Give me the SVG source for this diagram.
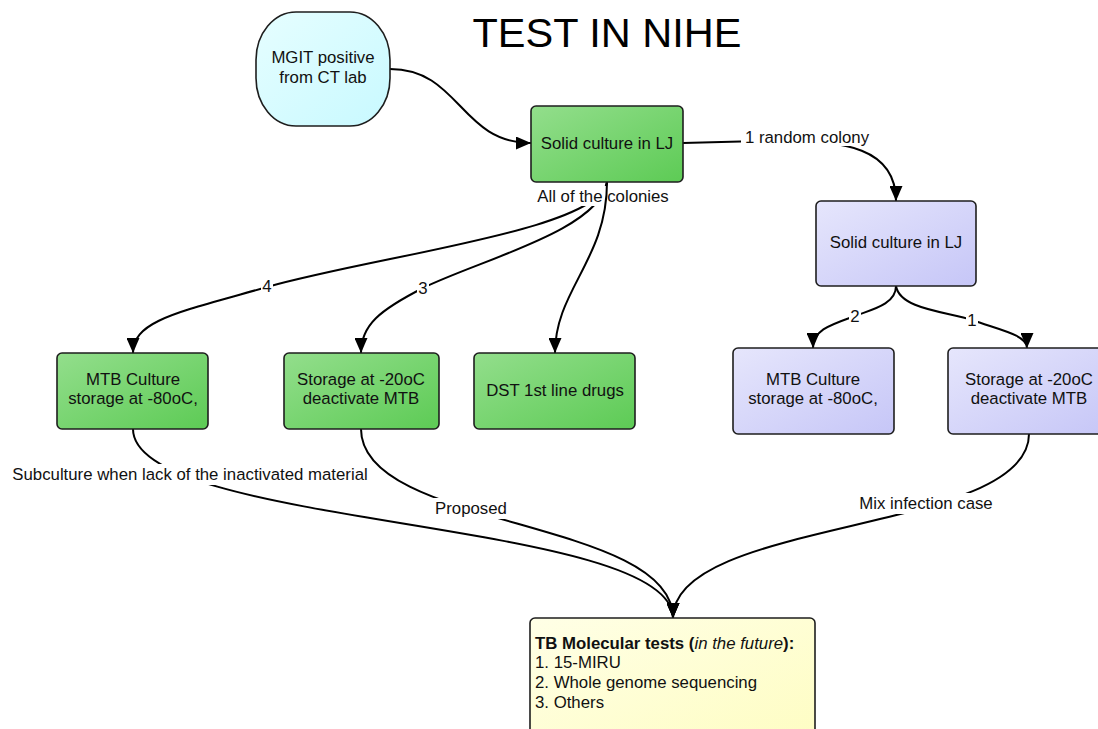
<svg xmlns="http://www.w3.org/2000/svg" width="1098" height="729" viewBox="0 0 1098 729">
<defs>
<linearGradient id="gGreen" x1="0" y1="0" x2="1" y2="1"><stop offset="0" stop-color="#93de8c"/><stop offset="1" stop-color="#5dcb55"/></linearGradient>
<linearGradient id="gBlue" x1="0" y1="0" x2="1" y2="1"><stop offset="0" stop-color="#e6e6fc"/><stop offset="1" stop-color="#c6c6f7"/></linearGradient>
<linearGradient id="gCyan" x1="0" y1="0" x2="1" y2="1"><stop offset="0" stop-color="#e6feff"/><stop offset="1" stop-color="#c8f9ff"/></linearGradient>
<linearGradient id="gYellow" x1="0" y1="0" x2="1" y2="1"><stop offset="0" stop-color="#ffffe6"/><stop offset="1" stop-color="#fefdc2"/></linearGradient>
<marker id="arr" viewBox="0 0 15 13" refX="15" refY="6.5" markerWidth="15" markerHeight="13" markerUnits="userSpaceOnUse" orient="auto"><path d="M0,0 L15,6.5 L0,13 Z" fill="#000"/></marker>
<style>
.box{stroke:#1e1e1e;stroke-width:1.6}
.t{font-family:"Liberation Sans",Arial,sans-serif;font-size:16.8px;fill:#111;text-anchor:middle}
.lbl{font-family:"Liberation Sans",Arial,sans-serif;font-size:16.8px;fill:#111;text-anchor:middle}
.lt{font-family:"Liberation Sans",Arial,sans-serif;font-size:16.8px;fill:#111}
.ln{fill:none;stroke:#000;stroke-width:2}
.bg{fill:#fff}
</style>
</defs>
<rect width="1098" height="729" fill="#fff"/>
<text x="607" y="47" style="font-family:'Liberation Sans',Arial,sans-serif;font-size:41.5px;fill:#000" text-anchor="middle">TEST IN NIHE</text>

<g id="connectors">
<path class="ln" d="M390,69 C460,69 460,143 531,143" marker-end="url(#arr)"/>
<path class="ln" d="M683,143 L760,141 C850,138 896,150 896,201" marker-end="url(#arr)"/>
<rect class="bg" x="741" y="126" width="132" height="20"/>
<text class="lbl" x="807" y="143">1 random colony</text>
<path class="ln" d="M607,182 C600,230 380,255 267,287 C180,312 133,320 133,353" marker-end="url(#arr)"/>
<path class="ln" d="M607,182 C600,230 480,260 423,288 C380,310 361,325 361,353" marker-end="url(#arr)"/>
<rect class="bg" x="534" y="186" width="139" height="20"/>
<text class="lbl" x="603" y="202">All of the colonies</text>
<path class="ln" d="M607,182 C607,260 555,290 555,353" marker-end="url(#arr)"/>
<rect class="bg" x="261" y="278" width="12" height="16"/>
<text class="lbl" x="267" y="292">4</text>
<rect class="bg" x="417" y="280" width="12" height="16"/>
<text class="lbl" x="423" y="294">3</text>
<path class="ln" d="M896,286 C896,305 870,310 855,316 C830,325 813,330 813,348" marker-end="url(#arr)"/>
<path class="ln" d="M896,286 C900,310 950,312 972,320 C1000,330 1027,335 1027,348" marker-end="url(#arr)"/>
<rect class="bg" x="849" y="308" width="12" height="16"/>
<text class="lbl" x="855" y="322">2</text>
<rect class="bg" x="966" y="312" width="12" height="16"/>
<text class="lbl" x="972" y="326">1</text>
<path class="ln" d="M133,429 C133,529 673,518 673,618" marker-end="url(#arr)"/>
<path class="ln" d="M361,429 C361,529 673,518 673,618" marker-end="url(#arr)"/>
<path class="ln" d="M1029,434 C1029,534 673,518 673,618" marker-end="url(#arr)"/>
<rect class="bg" x="6" y="464" width="368" height="21"/>
<text class="lbl" x="190" y="480">Subculture when lack of the inactivated material</text>
<rect class="bg" x="431" y="498" width="80" height="21"/>
<text class="lbl" x="471" y="514">Proposed</text>
<rect class="bg" x="855" y="493" width="142" height="21"/>
<text class="lbl" x="926" y="509">Mix infection case</text>
</g>

<g id="mgit">
<rect class="box" x="256" y="12" width="134" height="114" rx="40" ry="48" fill="url(#gCyan)"/>
<text class="t" x="323" y="63">MGIT positive</text>
<text class="t" x="323" y="83">from CT lab</text>
</g>
<g id="lj-main">
<rect class="box" x="531" y="106" width="152" height="76" rx="5" fill="url(#gGreen)"/>
<text class="t" x="607" y="149">Solid culture in LJ</text>
</g>
<g id="lj-right">
<rect class="box" x="816" y="201" width="160" height="85" rx="5" fill="url(#gBlue)"/>
<text class="t" x="896" y="248">Solid culture in LJ</text>
</g>
<g id="mtb-left">
<rect class="box" x="57" y="353" width="151" height="76" rx="5" fill="url(#gGreen)"/>
<text class="t" x="133" y="385">MTB Culture</text>
<text class="t" x="133" y="404">storage at -80oC,</text>
</g>
<g id="storage-left">
<rect class="box" x="284" y="353" width="155" height="76" rx="5" fill="url(#gGreen)"/>
<text class="t" x="361" y="385">Storage at -20oC</text>
<text class="t" x="361" y="404">deactivate MTB</text>
</g>
<g id="dst">
<rect class="box" x="474" y="353" width="161" height="76" rx="5" fill="url(#gGreen)"/>
<text class="t" x="555" y="396">DST 1st line drugs</text>
</g>
<g id="mtb-right">
<rect class="box" x="733" y="348" width="161" height="86" rx="5" fill="url(#gBlue)"/>
<text class="t" x="813" y="385">MTB Culture</text>
<text class="t" x="813" y="404">storage at -80oC,</text>
</g>
<g id="storage-right">
<rect class="box" x="948" y="348" width="162" height="86" rx="5" fill="url(#gBlue)"/>
<text class="t" x="1029" y="385">Storage at -20oC</text>
<text class="t" x="1029" y="404">deactivate MTB</text>
</g>
<g id="molecular">
<rect class="box" x="530" y="618" width="285" height="130" rx="5" fill="url(#gYellow)"/>
<text class="lt" x="535" y="649"><tspan font-weight="bold">TB Molecular tests (</tspan><tspan font-style="italic">in the future</tspan><tspan font-weight="bold">):</tspan></text>
<text class="lt" x="535" y="668">1. 15-MIRU</text>
<text class="lt" x="535" y="688">2. Whole genome sequencing</text>
<text class="lt" x="535" y="708">3. Others</text>
</g>
</svg>
